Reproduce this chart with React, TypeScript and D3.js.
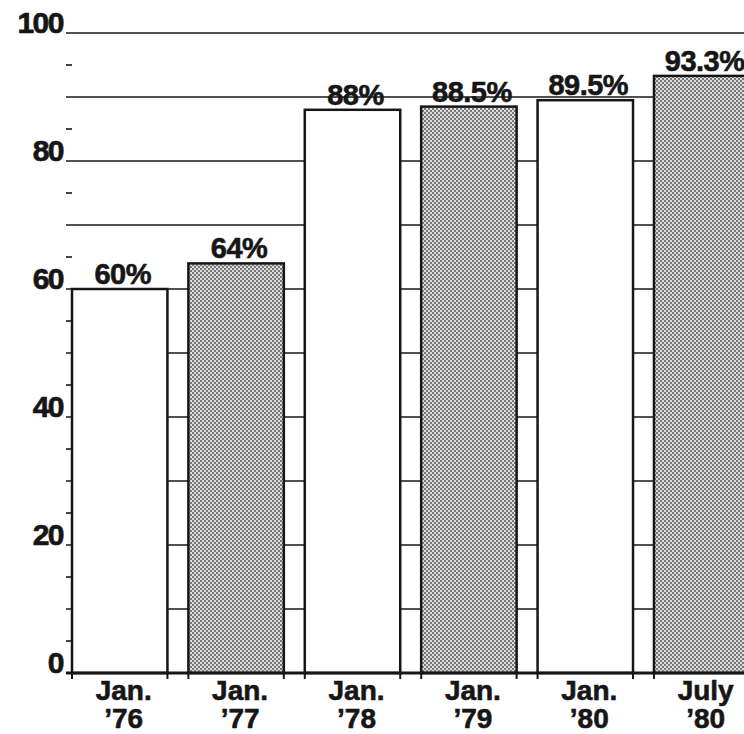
import React from "react";
import * as d3 from "d3";

const categories = ["Jan.|’76", "Jan.|’77", "Jan.|’78", "Jan.|’79", "Jan.|’80", "July|’80"];
const values = [60, 64, 88, 88.5, 89.5, 93.3];
const valueLabels = ["60%", "64%", "88%", "88.5%", "89.5%", "93.3%"];
const shaded = [false, true, false, true, false, true];
const yTickLabels = [0, 20, 40, 60, 80, 100];
const gridValues = [10, 20, 30, 40, 50, 60, 70, 80, 90, 100];
const minorValues = [5, 15, 25, 35, 45, 55, 65, 75, 85, 95];

const W = 744;
const H = 734;
const FONT = "'Liberation Sans', Arial, Helvetica, sans-serif";
const INK = "#161616";

export default function App() {
  const y = d3.scaleLinear().domain([0, 100]).range([673, 33]);
  const x = d3.scaleBand<string>().domain(categories).range([72, 749.4]).paddingInner(0.18).paddingOuter(0);
  const bw = x.bandwidth();

  return (
    <div style={{ position: "fixed", left: 0, top: 0, width: W, height: H, background: "#fff" }}>
      <svg width={W} height={H} viewBox={`0 0 ${W} ${H}`} style={{ display: "block" }}>
        <defs>
          <pattern id="stipple" width="4" height="4" patternUnits="userSpaceOnUse">
            <rect width="4" height="4" fill="#dcdcdc" />
            <circle cx="1" cy="1" r="0.9" fill="#4a4a4a" />
            <circle cx="3" cy="3" r="0.9" fill="#4a4a4a" />
          </pattern>
        </defs>
        <rect width={W} height={H} fill="#fff" />
        {gridValues.map((v) => (
          <line key={"g" + v} x1={66} x2={W} y1={y(v)} y2={y(v)} stroke={INK} strokeWidth={1.4} />
        ))}
        {minorValues.map((v) => (
          <line key={"m" + v} x1={66} x2={72} y1={y(v)} y2={y(v)} stroke={INK} strokeWidth={1.6} />
        ))}
        {categories.map((c, i) => (
          <rect
            key={c}
            x={x(c)}
            y={y(values[i])}
            width={bw}
            height={y(0) - y(values[i])}
            fill={shaded[i] ? "url(#stipple)" : "#fff"}
            stroke={INK}
            strokeWidth={2.5}
          />
        ))}
        <line x1={66} x2={W} y1={y(0)} y2={y(0)} stroke={INK} strokeWidth={3} />
        {categories.map((c) => (
          <g key={"t" + c}>
            <line x1={x(c)!} x2={x(c)!} y1={y(0)} y2={y(0) + 6} stroke={INK} strokeWidth={2} />
            <line x1={x(c)! + bw} x2={x(c)! + bw} y1={y(0)} y2={y(0) + 6} stroke={INK} strokeWidth={2} />
          </g>
        ))}
        {yTickLabels.map((v) => (
          <text
            key={"y" + v}
            x={63}
            y={y(v)}
            textAnchor="end"
            fontFamily={FONT}
            fontWeight="bold"
            fontSize={30}
            letterSpacing={-1.5}
            fill={INK}
            stroke={INK}
            strokeWidth={0.7}
          >
            {v}
          </text>
        ))}
        {categories.map((c, i) => (
          <text
            key={"v" + c}
            x={x(c)! + bw / 2 + 3}
            y={y(values[i]) - 5}
            textAnchor="middle"
            fontFamily={FONT}
            fontWeight="bold"
            fontSize={29}
            letterSpacing={-0.5}
            fill={INK}
            stroke={INK}
            strokeWidth={0.6}
          >
            {valueLabels[i]}
          </text>
        ))}
        {categories.map((c) => {
          const [l1, l2] = c.split("|");
          const cx = x(c)! + bw / 2 + 4;
          return (
            <g
              key={"c" + c}
              fontFamily={FONT}
              fontWeight="bold"
              fontSize={28}
              fill={INK}
              stroke={INK}
              strokeWidth={0.6}
              textAnchor="middle"
            >
              <text x={cx} y={700}>{l1}</text>
              <text x={cx} y={728}>{l2}</text>
            </g>
          );
        })}
      </svg>
    </div>
  );
}
